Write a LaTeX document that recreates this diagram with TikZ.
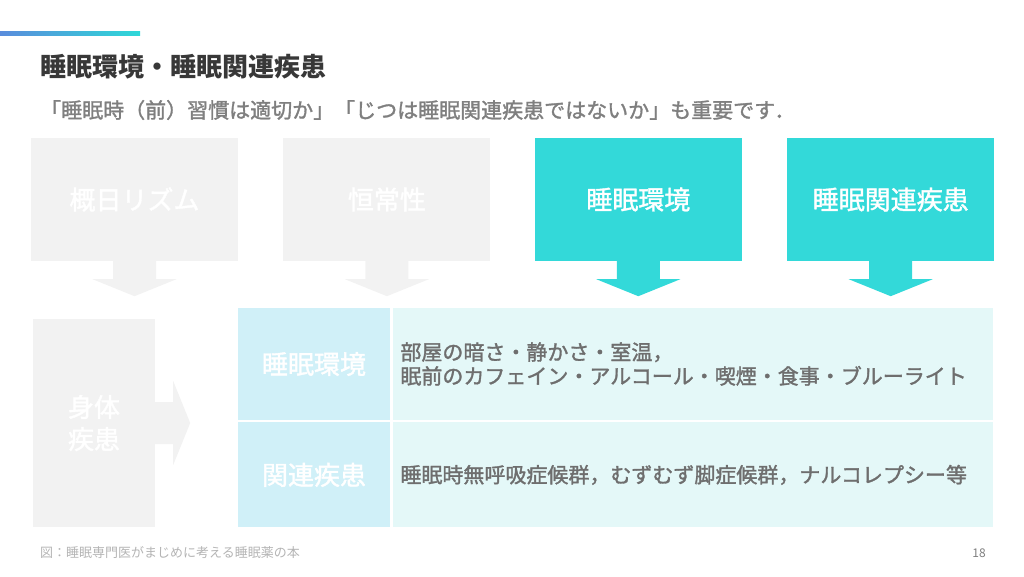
\documentclass[tikz,border=0pt]{standalone}
\usepackage{fontspec}
\setmainfont{Noto Sans CJK JP}
\newfontfamily\mediumfont[FakeBold=1.5]{Noto Sans CJK JP}
\usetikzlibrary{positioning,calc}

\definecolor{boxgray}{HTML}{F2F2F2}
\definecolor{sleepcyan}{HTML}{33D9D9}
\definecolor{cellblue}{HTML}{D0F0F8}
\definecolor{cellpale}{HTML}{E4F8F8}
\definecolor{titlegray}{HTML}{383838}
\definecolor{subgray}{HTML}{7F7F7F}
\definecolor{bodygray}{HTML}{6E6E6E}
\definecolor{footgray}{HTML}{B4B4B4}
\definecolor{barblue}{HTML}{5A8CDC}
\definecolor{barcyan}{HTML}{2ED8D8}

% block arrow pointing down, hanging below a node
\newcommand\downblock[2]{%
  \fill[#2] ($(#1.south)+(-21.5,0)$) -- ++(43,0) -- ++(0,18) -- ++(20.5,0)
    -- ($(#1.south)+(0,35)$) -- ($(#1.south)+(-42,18)$) -- ++(20.5,0) -- cycle;}

\begin{document}
\begin{tikzpicture}[x=1pt,y=-1pt,
  topbox/.style={minimum width=207pt, minimum height=123pt, inner sep=0pt,
    font=\fontsize{26}{30}\selectfont\mediumfont, text=white},
  headcell/.style={fill=cellblue, minimum width=152pt, inner sep=0pt,
    font=\fontsize{26}{30}\selectfont\mediumfont, text=white},
  bodycell/.style={fill=cellpale, text width=586pt, inner xsep=7pt, inner ysep=0pt,
    align=left, font=\fontsize{21}{24}\selectfont\mediumfont, text=bodygray},
  ]
\useasboundingbox (0,0) rectangle (1024,576);

% accent bar and headings
\shade[left color=barblue, right color=barcyan] (0,31) rectangle (140,35);
\node[anchor=west, inner sep=0pt, text=titlegray,
  font=\fontsize{26}{30}\selectfont\bfseries] (title) at (40,67)
  {睡眠環境・睡眠関連疾患};
\node[anchor=west, inner sep=0pt, text=subgray,
  font=\fontsize{21}{24}\selectfont\mediumfont] (lead) at (40,110)
  {「睡眠時（前）習慣は適切か」「じつは睡眠関連疾患ではないか」も重要です．};

% four factors
\node[topbox, fill=boxgray] (circ) at (134.5,199.5) {概日リズム};
\node[topbox, fill=boxgray, right=45pt of circ] (homeo) {恒常性};
\node[topbox, fill=sleepcyan, right=44pt of homeo] (env) {睡眠環境};
\node[topbox, fill=sleepcyan, right=45pt of env] (dis) {睡眠関連疾患};

\downblock{circ}{boxgray}
\downblock{homeo}{boxgray}
\downblock{env}{sleepcyan}
\downblock{dis}{sleepcyan}

% physical illness
\node[fill=boxgray, minimum width=122pt, minimum height=208pt, inner sep=0pt,
  align=center, font=\fontsize{26}{32}\selectfont\mediumfont, text=white]
  (body) at (94,423) {身体\\疾患};
\fill[boxgray] ($(body.east)+(0,-21)$) -- ++(18,0) -- ++(0,-21)
  -- ($(body.east)+(35,0)$) -- ($(body.east)+(18,42)$) -- ++(0,-21)
  -- ++(-18,0) -- cycle;

% table
\node[headcell, minimum height=112pt] (envhead) at (314,364) {睡眠環境};
\node[headcell, minimum height=105pt, below=2pt of envhead] (dishead) {関連疾患};
\node[bodycell, minimum height=112pt, right=3pt of envhead] (envbody)
  {部屋の暗さ・静かさ・室温，\\眠前のカフェイン・アルコール・喫煙・食事・ブルーライト};
\node[bodycell, minimum height=105pt, right=3pt of dishead] (disbody)
  {睡眠時無呼吸症候群，むずむず脚症候群，ナルコレプシー等};

% footer
\node[anchor=west, inner sep=0pt, text=footgray, font=\fontsize{13}{15}\selectfont]
  (src) at (40,553) {図：睡眠専門医がまじめに考える睡眠薬の本};
\node[anchor=east, inner sep=0pt, text=subgray, font=\fontsize{12}{14}\selectfont]
  (page) at (986,553) {18};
\end{tikzpicture}
\end{document}
